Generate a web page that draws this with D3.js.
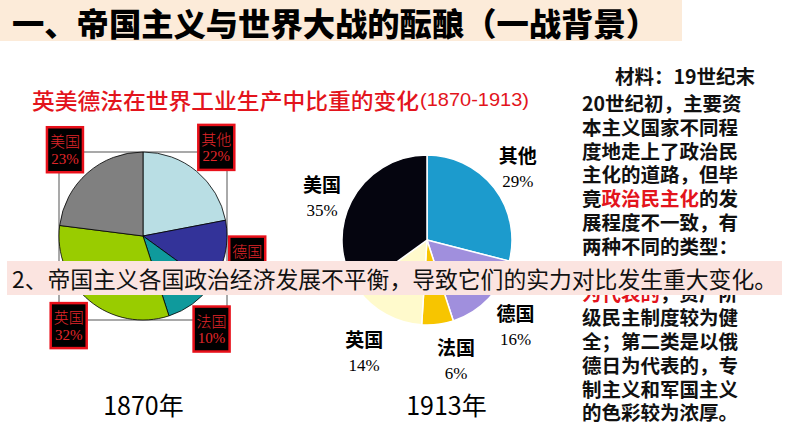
<!DOCTYPE html>
<html><head><meta charset="utf-8">
<script src="https://cdn.jsdelivr.net/npm/d3@7"></script>
<style>body{margin:0;background:#fff}svg{display:block}</style>
</head><body>
<svg id="c" width="794" height="447"></svg>
<script>
// ---------- data ----------
const countries1870 = ["其他","德国","法国","英国","美国"];
const shares1870 = [22,13,10,32,23];
const countries1913 = ["其他","德国","法国","英国","美国"];
const shares1913 = [29,16,6,14,35];
const yearLabels = ["1870年","1913年"];
const headingText = "一、帝国主义与世界大战的酝酿（一战背景）";
const chartTitle = "英美德法在世界工业生产中比重的变化";
const chartTitleYears = "(1870-1913)";
const bannerText = "2、帝国主义各国政治经济发展不平衡，导致它们的实力对比发生重大变化。";
const materialLines = [
  [["材料：19世纪末",0]],
  [["20世纪初，主要资",0]],
  [["本主义国家不同程",0]],
  [["度地走上了政治民",0]],
  [["主化的道路，但毕",0]],
  [["竟",0],["政治民主化",1],["的发",0]],
  [["展程度不一致，有",0]],
  [["两种不同的类型：",0]],
  [["第一类是以英法美",1]],
  [["为代表的",1],["，资产阶",0]],
  [["级民主制度较为健",0]],
  [["全；第二类是以俄",0]],
  [["德日为代表的，专",0]],
  [["制主义和军国主义",0]],
  [["的色彩较为浓厚。",0]]
];

// ---------- styles / layout ----------
const colors1870 = {"其他":"#b9dee4","德国":"#333399","法国":"#0f9a9c","英国":"#99cc00","美国":"#808080"};
const colors1913 = {"其他":"#1c9bcd","德国":"#a08fdd","法国":"#f7c500","英国":"#fffacc","美国":"#05050f"};
const nudge1870 = {"其他":[0,0],"德国":[-8,-2],"法国":[1,0],"英国":[-1,1],"美国":[-2,0]};
const nudge1913 = {"其他":[-4,2],"德国":[1,4],"法国":[14,1],"英国":[-5,7],"美国":[2,11]};
const CJK = "'Noto Sans CJK SC','Noto Sans',sans-serif";
const SERIF = "'Liberation Serif','DejaVu Serif',serif";
const RED = "#e3141c";

const svg = d3.select("#c");

// heading band
svg.append("rect").attr("x",0).attr("y",0).attr("width",682).attr("height",41).attr("fill","#fcebd9");
svg.append("text").attr("x",12).attr("y",22).attr("dominant-baseline","central")
  .attr("font-family",CJK).attr("font-weight",900).attr("font-size",32)
  .attr("textLength",646).attr("lengthAdjust","spacingAndGlyphs")
  .attr("fill","#000").text(headingText);

// chart title
svg.append("text").attr("x",32).attr("y",99).attr("dominant-baseline","central")
  .attr("font-family",CJK).attr("font-weight",500).attr("font-size",22)
  .attr("textLength",387).attr("lengthAdjust","spacingAndGlyphs")
  .attr("fill",RED).text(chartTitle);
svg.append("text").attr("x",420).attr("y",99).attr("dominant-baseline","central")
  .attr("font-family","'Liberation Sans Narrow','Liberation Sans',sans-serif").attr("font-size",19)
  .attr("textLength",109).attr("lengthAdjust","spacingAndGlyphs")
  .attr("fill",RED).text(chartTitleYears);

const pie = d3.pie().sort(null).value(d=>d.v);

// ---------- 1870 pie ----------
{
  const cx=143, cy=236, r=84;
  const data = countries1870.map((c,i)=>({c, v:shares1870[i]}));
  const g = svg.append("g").attr("transform",`translate(${cx},${cy})`);
  g.append("rect").attr("x",-r).attr("y",-r).attr("width",2*r).attr("height",2*r)
    .attr("fill","none").attr("stroke","#555").attr("stroke-width",1);
  const arc = d3.arc().innerRadius(0).outerRadius(r);
  const arcs = pie(data);
  g.selectAll("path").data(arcs).join("path").attr("d",arc)
    .attr("fill",d=>colors1870[d.data.c]).attr("stroke","#000").attr("stroke-width",0.8);
  const lab = d3.arc().innerRadius(115).outerRadius(115);
  const bw=36, bh=45;
  const lg = g.selectAll("g.lab").data(arcs).join("g").attr("class","lab")
    .attr("transform",d=>{const p=lab.centroid(d), n=nudge1870[d.data.c];return `translate(${p[0]+n[0]},${p[1]+n[1]})`;});
  lg.append("rect").attr("x",-bw/2).attr("y",-bh/2).attr("width",bw).attr("height",bh)
    .attr("fill","#000").attr("stroke","#e8101a").attr("stroke-width",2.5);
  lg.append("text").attr("y",-9).attr("text-anchor","middle").attr("dominant-baseline","central")
    .attr("font-family",CJK).attr("font-weight",300).attr("font-size",15).attr("fill","#e0262a")
    .text(d=>d.data.c);
  lg.append("text").attr("y",9).attr("text-anchor","middle").attr("dominant-baseline","central")
    .attr("font-family",SERIF).attr("font-size",15).attr("fill","#e0262a")
    .text(d=>d.data.v+"%");
  svg.append("text").attr("x",cx+0.5).attr("y",404).attr("text-anchor","middle").attr("dominant-baseline","central")
    .attr("font-family",CJK).attr("font-size",25).attr("fill","#000").text(yearLabels[0]);
}

// ---------- 1913 pie ----------
{
  const cx=427, cy=240, r=85;
  const data = countries1913.map((c,i)=>({c, v:shares1913[i]}));
  const g = svg.append("g").attr("transform",`translate(${cx},${cy})`);
  const arc = d3.arc().innerRadius(0).outerRadius(r);
  const arcs = pie(data);
  g.selectAll("path").data(arcs).join("path").attr("d",arc)
    .attr("fill",d=>colors1913[d.data.c]).attr("stroke","#fff").attr("stroke-width",1.5);
  const lab = d3.arc().innerRadius(120).outerRadius(120);
  const lg = g.selectAll("g.lab").data(arcs).join("g").attr("class","lab")
    .attr("transform",d=>{const p=lab.centroid(d), n=nudge1913[d.data.c];return `translate(${p[0]+n[0]},${p[1]+n[1]})`;});
  lg.append("text").attr("y",-13.5).attr("text-anchor","middle").attr("dominant-baseline","central")
    .attr("font-family",CJK).attr("font-weight",700).attr("font-size",19).attr("fill","#000")
    .text(d=>d.data.c);
  lg.append("text").attr("y",13.5).attr("text-anchor","middle").attr("dominant-baseline","central")
    .attr("font-family",SERIF).attr("font-size",17).attr("fill","#000")
    .text(d=>d.data.v+"%");
  svg.append("text").attr("x",446.5).attr("y",404).attr("text-anchor","middle").attr("dominant-baseline","central")
    .attr("font-family",CJK).attr("font-size",25).attr("fill","#000").text(yearLabels[1]);
}

// ---------- material text ----------
{
  const t = svg.append("g").attr("font-family",CJK).attr("font-weight",700).attr("font-size",19.5);
  materialLines.forEach((segs,i)=>{
    const y = i===0 ? 75 : 102 + (i-1)*23.8;
    const x = i===0 ? 615 : 582;
    const tx = t.append("text").attr("x",x).attr("y",y).attr("dominant-baseline","central");
    segs.forEach(s=>tx.append("tspan").attr("fill",s[1]?RED:"#111").text(s[0]));
  });
}

// ---------- banner ----------
svg.append("rect").attr("x",7).attr("y",261).attr("width",775).attr("height",34).attr("fill","#fbe4e0");
svg.append("text").attr("x",12).attr("y",278).attr("dominant-baseline","central")
  .attr("font-family",CJK).attr("font-weight",400).attr("font-size",22.5)
  .attr("textLength",765).attr("lengthAdjust","spacingAndGlyphs")
  .attr("fill","#111").text(bannerText);
</script>
</body></html>
